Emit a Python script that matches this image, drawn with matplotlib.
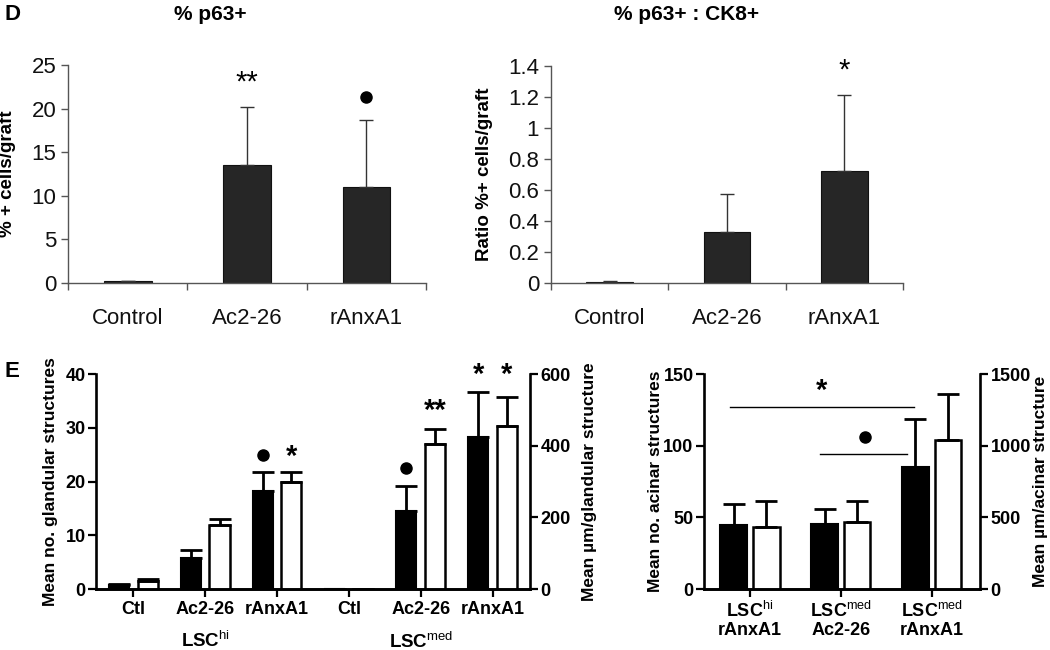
import matplotlib
matplotlib.use("Agg")
import matplotlib.pyplot as plt
import matplotlib.transforms as mtransforms

plt.rcParams["font.family"] = ["Liberation Sans", "DejaVu Sans"]
plt.rcParams["mathtext.fontset"] = "custom"
plt.rcParams["mathtext.rm"] = "Liberation Sans"
plt.rcParams["mathtext.bf"] = "Liberation Sans:bold"

# panel D
top_cats = ["Control", "Ac2-26", "rAnxA1"]
p63_mean = [0.2, 13.5, 11.0]
p63_sem = [0.05, 6.7, 7.7]
ratio_mean = [0.005, 0.33, 0.72]
ratio_sem = [0.006, 0.245, 0.49]

# panel E, glandular (LSChi: first three, LSCmed: last three)
gland_cats = ["Ctl", "Ac2-26", "rAnxA1", "Ctl", "Ac2-26", "rAnxA1"]
gland_no = [0.7, 5.7, 18.3, 0, 14.6, 28.2]
gland_no_sem = [0.15, 1.5, 3.5, 0, 4.6, 8.4]
gland_um = [22, 180, 300, 0, 405, 455]
gland_um_sem = [5, 16, 27, 0, 42, 82]

# panel E, acinar
acin_cats = ["LSC$^{\\mathrm{hi}}$\nrAnxA1", "LSC$^{\\mathrm{med}}$\nAc2-26",
             "LSC$^{\\mathrm{med}}$\nrAnxA1"]
acin_no = [44.7, 45.3, 85.0]
acin_no_sem = [14.6, 10.5, 33.5]
acin_um = [433, 467, 1040]
acin_um_sem = [181, 147, 320]

GREY = "#555555"


def top_panel(ax, means, sems, ylim, yticks, yticklabels, ylabel):
    x = list(range(len(means)))
    ax.bar(x, means, width=0.4, color="#262626", edgecolor="#111111", linewidth=0.8, zorder=2)
    ax.errorbar(x, means, yerr=[[0] * len(means), sems], fmt="none", ecolor="#333333",
                elinewidth=1, capsize=5, capthick=1, zorder=3)
    ax.set_xlim(-0.5, len(means) - 0.5)
    ax.set_ylim(*ylim)
    ax.set_yticks(yticks)
    ax.set_yticklabels(yticklabels)
    ax.set_xticks([i - 0.5 for i in range(len(means) + 1)])
    ax.set_xticklabels([])
    ax.set_xticks(x, minor=True)
    ax.set_xticklabels(top_cats, minor=True)
    ax.tick_params(axis="x", which="major", length=5, width=1, color=GREY)
    ax.tick_params(axis="x", which="minor", length=0, pad=18, labelsize=16, labelcolor="#111111")
    ax.tick_params(axis="y", length=5, width=1, color=GREY, labelsize=16, labelcolor="#111111")
    for s in ["top", "right"]:
        ax.spines[s].set_visible(False)
    for s in ["left", "bottom"]:
        ax.spines[s].set_color(GREY)
        ax.spines[s].set_linewidth(1)
    ax.set_ylabel(ylabel, fontsize=13.5, fontweight="bold")


def bold_ticks(ax):
    for lab in ax.get_xticklabels() + ax.get_yticklabels():
        lab.set_fontweight("bold")


def paired_bars(ax, ax2, x, no, no_sem, um, um_sem, off, w):
    n = len(x)
    xb = [i - off for i in x]
    xw = [i + off for i in x]
    ax.bar(xb, no, width=w, color="black", edgecolor="black", linewidth=1.5, zorder=2)
    ax.errorbar(xb, no, yerr=[[0] * n, no_sem], fmt="none", ecolor="black",
                elinewidth=2, capsize=8, capthick=2, zorder=3)
    ax2.bar(xw, um, width=w, color="white", edgecolor="black", linewidth=1.8, zorder=2)
    ax2.errorbar(xw, um, yerr=[[0] * n, um_sem], fmt="none", ecolor="black",
                 elinewidth=2, capsize=8, capthick=2, zorder=3)


def style_bottom(ax, ax2):
    ax.spines["top"].set_visible(False)
    ax.spines["right"].set_visible(False)
    ax2.spines["top"].set_visible(False)
    ax2.spines["left"].set_visible(False)
    for a in (ax, ax2):
        for s in a.spines.values():
            s.set_linewidth(1.9)
        a.tick_params(length=5.5, width=1.6, labelsize=13, pad=2)
    ax.tick_params(axis="x", pad=3)
    bold_ticks(ax)
    bold_ticks(ax2)


fig = plt.figure(figsize=(10.5, 6.5), dpi=100)

# ---- D left
ax1 = fig.add_axes([0.0648, 0.5646, 0.341, 0.3354])
top_panel(ax1, p63_mean, p63_sem, (0, 25), [0, 5, 10, 15, 20, 25],
          ["0", "5", "10", "15", "20", "25"], "% + cells/graft")
ax1.text(1, 23.0, "**", ha="center", va="center", fontsize=21)
ax1.plot([2], [21.3], "o", color="black", markersize=8)
ax1.yaxis.set_label_coords(-0.145, 0.5)

# ---- D right
ax2 = fig.add_axes([0.5248, 0.5646, 0.3352, 0.3338])
top_panel(ax2, ratio_mean, ratio_sem, (0, 1.4), [0, 0.2, 0.4, 0.6, 0.8, 1, 1.2, 1.4],
          ["0", "0.2", "0.4", "0.6", "0.8", "1", "1.2", "1.4"], "Ratio %+ cells/graft")
ax2.text(2, 1.37, "*", ha="center", va="center", fontsize=21)
ax2.yaxis.set_label_coords(-0.165, 0.5)

fig.text(0.2, 0.978, "% p63+", ha="center", va="center", fontsize=15, fontweight="bold")
fig.text(0.654, 0.978, "% p63+ : CK8+", ha="center", va="center", fontsize=15, fontweight="bold")
fig.text(0.004, 0.978, "D", ha="left", va="center", fontsize=16, fontweight="bold")
fig.text(0.004, 0.428, "E", ha="left", va="center", fontsize=16, fontweight="bold")

# ---- E left (glandular)
ax3 = fig.add_axes([0.0914, 0.0938, 0.4133, 0.3308])
ax3b = ax3.twinx()
gx = list(range(len(gland_cats)))
paired_bars(ax3, ax3b, gx, gland_no, gland_no_sem, gland_um, gland_um_sem, 0.2, 0.28)
ax3.set_xlim(-0.52, len(gland_cats) - 0.48)
ax3.set_ylim(0, 40)
ax3b.set_ylim(0, 600)
ax3.set_yticks([0, 10, 20, 30, 40])
ax3b.set_yticks([0, 200, 400, 600])
ax3.set_xticks(gx)
ax3.set_xticklabels(gland_cats)
style_bottom(ax3, ax3b)
ax3.set_ylabel("Mean no. glandular structures", fontsize=12.5, fontweight="bold")
ax3b.set_ylabel("Mean µm/glandular structure", fontsize=12.5, fontweight="bold")
ax3.yaxis.set_label_coords(-0.088, 0.5)
ax3b.yaxis.set_label_coords(1.12, 0.5)
trans = mtransforms.blended_transform_factory(ax3.transData, ax3.transAxes)
ax3.text(1, -0.24, "LSC$^{\\mathrm{hi}}$", transform=trans, ha="center", va="center",
         fontsize=13.5, fontweight="bold")
ax3.text(4, -0.245, "LSC$^{\\mathrm{med}}$", transform=trans, ha="center", va="center",
         fontsize=13.5, fontweight="bold")
ax3.plot([1.8, 3.8], [25, 22.5], "o", color="black", markersize=8, clip_on=False)
ax3.text(2.2, 24.5, "*", ha="center", va="center", fontsize=21, fontweight="bold")
ax3.text(4.2, 33.2, "**", ha="center", va="center", fontsize=21, fontweight="bold")
ax3.text(4.8, 39.9, "*", ha="center", va="center", fontsize=21, fontweight="bold")
ax3.text(5.2, 39.9, "*", ha="center", va="center", fontsize=21, fontweight="bold")

# ---- E right (acinar)
ax4 = fig.add_axes([0.6705, 0.0938, 0.2629, 0.3308])
ax4b = ax4.twinx()
ax_ = list(range(len(acin_cats)))
paired_bars(ax4, ax4b, ax_, acin_no, acin_no_sem, acin_um, acin_um_sem, 0.18, 0.29)
ax4.set_xlim(-0.505, 2.53)
ax4.set_ylim(0, 150)
ax4b.set_ylim(0, 1500)
ax4.set_yticks([0, 50, 100, 150])
ax4b.set_yticks([0, 500, 1000, 1500])
ax4.set_xticks(ax_)
ax4.set_xticklabels(acin_cats, linespacing=1.1)
style_bottom(ax4, ax4b)
ax4.set_ylabel("Mean no. acinar structures", fontsize=12.5, fontweight="bold")
ax4b.set_ylabel("Mean µm/acinar structure", fontsize=12.5, fontweight="bold")
ax4.yaxis.set_label_coords(-0.15, 0.5)
ax4b.yaxis.set_label_coords(1.19, 0.5)
ax4.plot([-0.22, 1.80], [127, 127], color="black", linewidth=1)
ax4.plot([0.77, 1.73], [94, 94], color="black", linewidth=1)
ax4.text(0.79, 138, "*", ha="center", va="center", fontsize=21, fontweight="bold")
ax4.plot([1.26], [106], "o", color="black", markersize=8)

fig.savefig("out.png", dpi=100)
